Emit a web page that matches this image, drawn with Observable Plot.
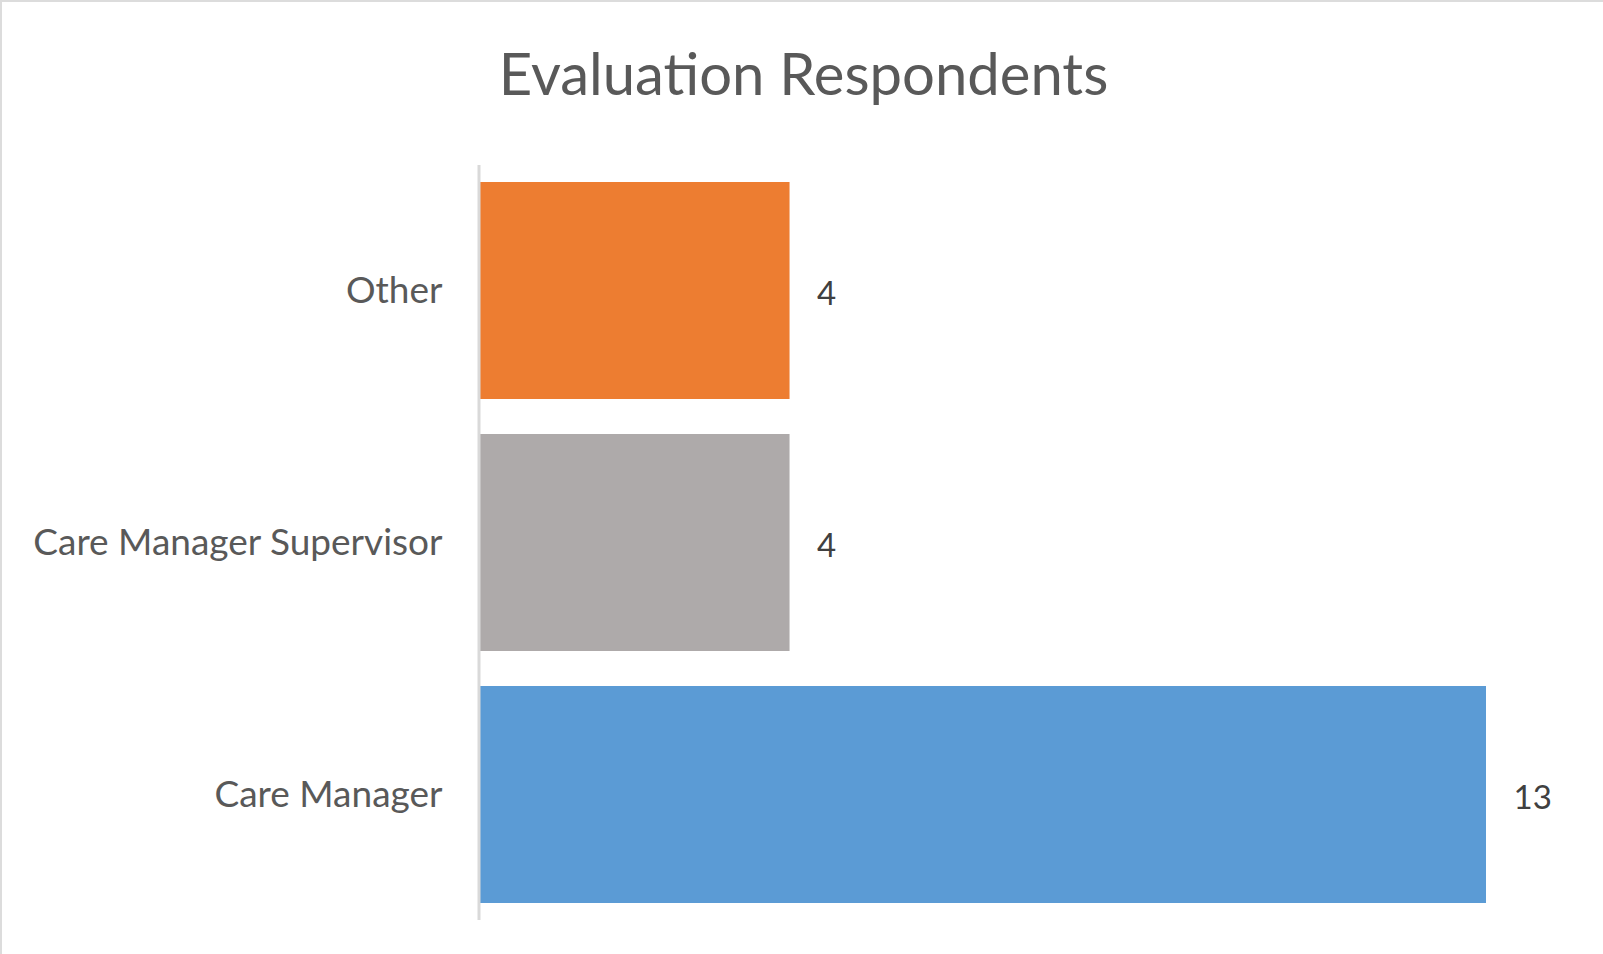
<!DOCTYPE html>
<html>
<head>
<meta charset="utf-8">
<script src="https://cdn.jsdelivr.net/npm/d3@7"></script>
<script src="https://cdn.jsdelivr.net/npm/@observablehq/plot@0.6"></script>
<style>
  html, body { margin: 0; padding: 0; background: #fff; }
  #wrap { position: relative; width: 1603px; height: 954px; overflow: hidden; box-sizing: border-box; border-top: 2px solid #dcdcdc; border-left: 2px solid #dcdcdc; }
  #title { position: absolute; left: 0; width: 1603px; top: 42px; text-align: center; font-family: Lato, sans-serif; font-size: 58px; line-height: 58px; color: #595959; }
  #chart { position: absolute; left: -2px; top: -2px; }
</style>
</head>
<body>
<div id="wrap">
  <div id="title">Evaluation Respondents</div>
  <div id="chart"></div>
</div>
<script>
const categories = ["Care Manager", "Care Manager Supervisor", "Other"];
const values = [13, 4, 4];
const colors = ["#5B9BD5", "#AEAAAA", "#ED7D31"];

const data = categories.map((c, i) => ({category: c, value: values[i], color: colors[i]}));
const order = categories.slice().reverse();

const chart = Plot.plot({
  width: 1603,
  height: 954,
  marginTop: 165,
  marginBottom: 34,
  marginLeft: 480,
  marginRight: 117,
  style: {fontFamily: "Lato, sans-serif", fontSize: "37px", color: "#595959", background: "transparent"},
  x: {domain: [0, 13], axis: null},
  y: {domain: order, paddingInner: 0.14, paddingOuter: 0.065, label: null},
  marks: [
    Plot.barX(data, {x: "value", y: "category", fill: "color"}),
    Plot.ruleX([0], {stroke: "#d9d9d9", strokeWidth: 3, dx: -1.5}),
    Plot.axisY({tickSize: 0, tickPadding: 38, label: null, fontSize: 37, fill: "#595959"}),
    Plot.text(data, {x: "value", y: "category", text: d => String(d.value), textAnchor: "start", dx: 27, dy: 3, fontSize: 33, fill: "#404040"})
  ]
});
document.getElementById("chart").appendChild(chart);
</script>
</body>
</html>
